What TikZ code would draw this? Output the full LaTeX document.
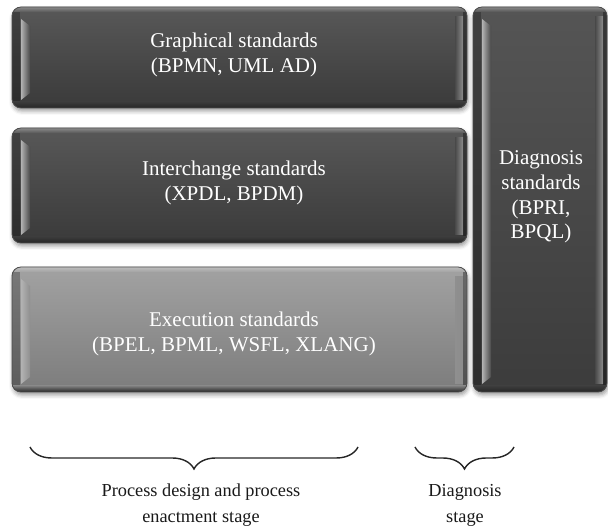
\documentclass[tikz,border=0pt]{standalone}
\usepackage{fontspec}
\setmainfont{Liberation Serif}
\usetikzlibrary{shadows.blur, decorations.pathreplacing}
\definecolor{darktop}{HTML}{585858}
\definecolor{darkbot}{HTML}{3A3A3A}
\definecolor{lighttop}{HTML}{A2A2A2}
\definecolor{lightbot}{HTML}{7C7C7C}
\definecolor{diagtop}{HTML}{555555}
\definecolor{diagbot}{HTML}{3C3C3C}

\begin{document}
\begin{tikzpicture}[x=1pt, y=1pt,
  glossy/.style n args={2}{rounded corners=9pt, top color=#1, bottom color=#2, inner sep=0pt,
    draw=black!70, line width=0.8pt,
    blur shadow={shadow xshift=1pt, shadow yshift=-3pt, shadow blur radius=4pt, shadow opacity=40},
    path picture={
      \fill[sharp corners, black, opacity=0.25]
        (path picture bounding box.north west) rectangle ([xshift=8]path picture bounding box.south west);
      \shade[sharp corners, left color=white!70!black, right color=#1!50!#2]
        ([shift={(9,-12)}]path picture bounding box.north west) -- ([shift={(18,-19)}]path picture bounding box.north west)
        -- ([shift={(18,15)}]path picture bounding box.south west) -- ([shift={(9,8)}]path picture bounding box.south west) -- cycle;
      \shade[sharp corners, left color=#1!50!#2, right color=white!55!black]
        ([shift={(-12,-10)}]path picture bounding box.north east) rectangle ([shift={(-4,8)}]path picture bounding box.south east);
      \fill[sharp corners, black, opacity=0.35]
        ([shift={(-4,0)}]path picture bounding box.north east) rectangle (path picture bounding box.south east);
      \shade[sharp corners, top color=#2, bottom color=black!85]
        ([yshift=6]path picture bounding box.south west) rectangle (path picture bounding box.south east);
      \shade[sharp corners, top color=white!30!#1, bottom color=#1]
        (path picture bounding box.north west) rectangle ([yshift=-5]path picture bounding box.north east);
    }},
  boxtxt/.style={text=white, align=center, inner sep=0pt, font=\fontsize{21}{24.7}\selectfont},
  stagetxt/.style={text=black!90, align=center, inner sep=0pt, font=\fontsize{18.3}{26}\selectfont},
  stagebrace/.style={decorate, decoration={brace, mirror, amplitude=22pt}, line width=1.4pt, black!85}]
\useasboundingbox (0,0) rectangle (608,527);

\node[glossy={darktop}{darkbot}, minimum width=455, minimum height=101] (graph) at (239.5,469.5) {};
\node[glossy={darktop}{darkbot}, minimum width=455, minimum height=115] (inter) at (239.5,341.5) {};
\node[glossy={lighttop}{lightbot}, minimum width=455, minimum height=125] (exec) at (239.5,197.5) {};
\node[glossy={diagtop}{diagbot}, minimum width=134, minimum height=385] (diag) at (540,327.5) {};

\node[boxtxt] (graphtxt) at ([shift={(-5.5,2.5)}]graph.center) {Graphical standards\\(BPMN, UML AD)};
\node[boxtxt] (intertxt) at ([shift={(-5.5,2.5)}]inter.center) {Interchange standards\\(XPDL, BPDM)};
\node[boxtxt] (exectxt) at ([shift={(-5.5,-4.5)}]exec.center) {Execution standards\\(BPEL, BPML, WSFL, XLANG)};
\node[boxtxt] (diagtxt) at ([shift={(1,2.5)}]diag.center) {Diagnosis\\standards\\(BPRI,\\BPQL)};

\coordinate (procl) at (30,80);
\coordinate (procr) at (358,80);
\coordinate (diagl) at (415,80);
\coordinate (diagr) at (514,80);
\draw[stagebrace] (procl) -- (procr);
\draw[stagebrace] (diagl) -- (diagr);
\node[stagetxt, anchor=north] (proctxt) at (201,43) {Process design and process\\enactment stage};
\node[stagetxt, anchor=north] (stagetxt) at (465,43) {Diagnosis\\stage};
\end{tikzpicture}
\end{document}
